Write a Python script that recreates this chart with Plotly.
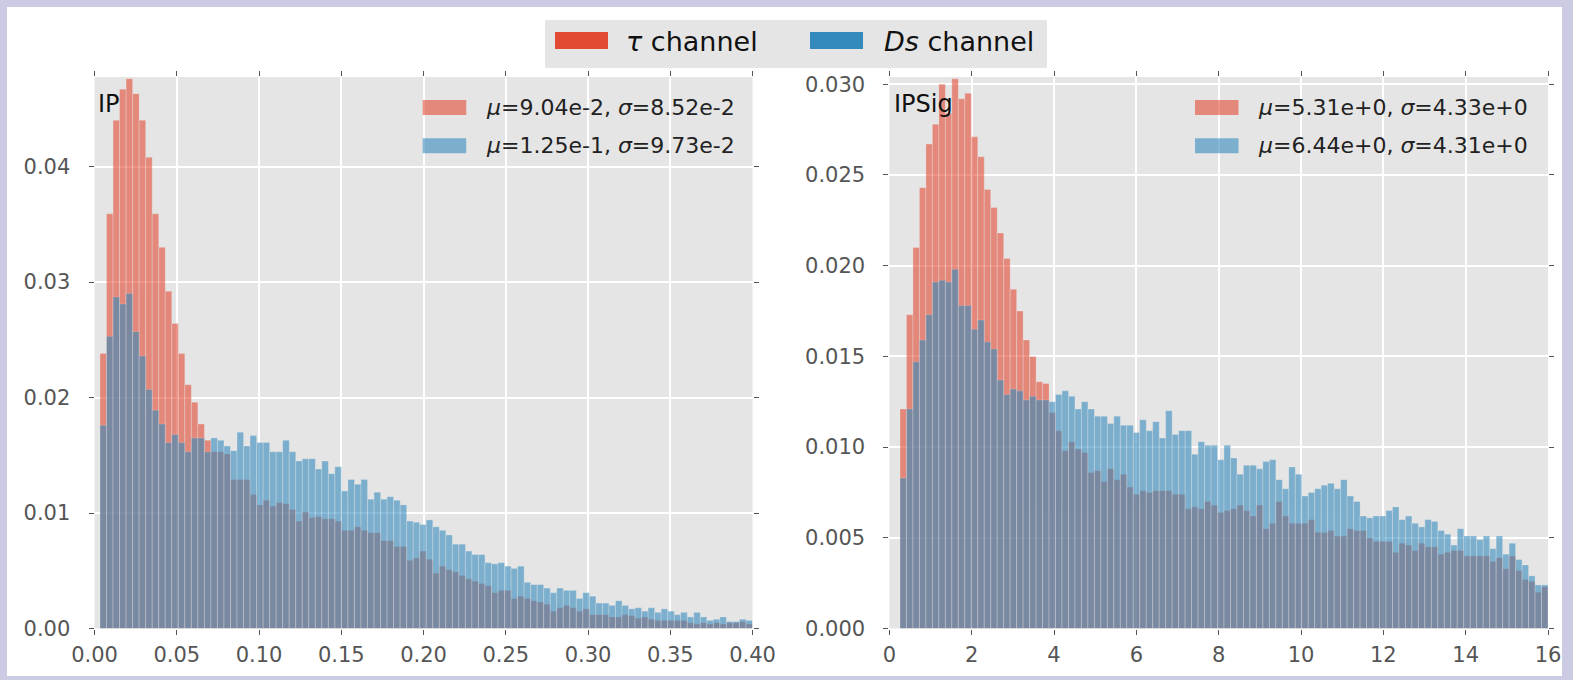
import numpy as np
import plotly.graph_objects as go

W, H = 1573, 680

# ---------------- data ----------------
n_bins = 100
ip_bin_start, ip_bin_end = 0.00334, 0.40
ipsig_bin_start, ipsig_bin_end = 0.2575, 16.0

ip_tau = [0.0238, 0.0359, 0.0440, 0.0467, 0.0476, 0.0463, 0.0440, 0.0408, 0.0359, 0.0330,
          0.0292, 0.0264, 0.0238, 0.0211, 0.0196, 0.0177, 0.0163, 0.0153, 0.0153, 0.0151,
          0.0129, 0.0129, 0.0129, 0.0116, 0.0107, 0.0111, 0.0106, 0.0109, 0.0108, 0.0103,
          0.0093, 0.0101, 0.0096, 0.0097, 0.0095, 0.0095, 0.0093, 0.0085, 0.0085, 0.0088,
          0.0085, 0.0083, 0.0083, 0.0076, 0.0076, 0.0071, 0.0071, 0.0059, 0.0061, 0.0067,
          0.0060, 0.0048, 0.0054, 0.0051, 0.0049, 0.0046, 0.0043, 0.0041, 0.0039, 0.0037,
          0.0031, 0.0033, 0.0033, 0.0026, 0.0028, 0.0026, 0.0024, 0.0023, 0.0021, 0.0015,
          0.0018, 0.0020, 0.0018, 0.0015, 0.0017, 0.0012, 0.0012, 0.0012, 0.0010, 0.0010,
          0.0012, 0.0011, 0.0009, 0.0010, 0.0008, 0.0007, 0.0007, 0.0007, 0.0007, 0.0007,
          0.0005, 0.0004, 0.0005, 0.0004, 0.0005, 0.0004, 0.0005, 0.0005, 0.0006, 0.0004]

ip_ds = [0.0176, 0.0253, 0.0287, 0.0281, 0.0290, 0.0257, 0.0236, 0.0207, 0.0189, 0.0177,
         0.0161, 0.0168, 0.0161, 0.0153, 0.0165, 0.0165, 0.0153, 0.0165, 0.0163, 0.0158,
         0.0154, 0.0170, 0.0158, 0.0167, 0.0161, 0.0161, 0.0153, 0.0153, 0.0163, 0.0153,
         0.0145, 0.0147, 0.0147, 0.0138, 0.0145, 0.0134, 0.0140, 0.0119, 0.0129, 0.0125,
         0.0129, 0.0112, 0.0118, 0.0112, 0.0114, 0.0111, 0.0107, 0.0093, 0.0092, 0.0090,
         0.0094, 0.0088, 0.0085, 0.0081, 0.0073, 0.0073, 0.0067, 0.0064, 0.0064, 0.0057,
         0.0056, 0.0057, 0.0054, 0.0052, 0.0054, 0.0040, 0.0038, 0.0038, 0.0035, 0.0031,
         0.0035, 0.0033, 0.0033, 0.0026, 0.0031, 0.0028, 0.0022, 0.0022, 0.0020, 0.0024,
         0.0020, 0.0017, 0.0018, 0.0015, 0.0018, 0.0014, 0.0017, 0.0015, 0.0012, 0.0014,
         0.0010, 0.0014, 0.0010, 0.0007, 0.0008, 0.0010, 0.0006, 0.0006, 0.0008, 0.0007]

ipsig_tau = [0.0121, 0.0173, 0.0210, 0.0243, 0.0267, 0.0278, 0.0300, 0.0284, 0.0303, 0.0292,
             0.0295, 0.0271, 0.0260, 0.0242, 0.0232, 0.0218, 0.0204, 0.0187, 0.0175, 0.0159,
             0.0150, 0.0136, 0.0135, 0.0119, 0.0109, 0.0098, 0.0103, 0.0099, 0.0097, 0.0086,
             0.0087, 0.0081, 0.0088, 0.0082, 0.0085, 0.0078, 0.0074, 0.0076, 0.0075, 0.0076,
             0.0076, 0.0076, 0.0074, 0.0074, 0.0066, 0.0067, 0.0066, 0.0070, 0.0068, 0.0064,
             0.0065, 0.0066, 0.0068, 0.0065, 0.0062, 0.0068, 0.0055, 0.0058, 0.0070, 0.0062,
             0.0058, 0.0058, 0.0058, 0.0060, 0.0053, 0.0053, 0.0054, 0.0051, 0.0051, 0.0055,
             0.0054, 0.0054, 0.0050, 0.0048, 0.0048, 0.0048, 0.0042, 0.0047, 0.0046, 0.0043,
             0.0047, 0.0045, 0.0045, 0.0041, 0.0042, 0.0043, 0.0043, 0.0040, 0.0040, 0.0040,
             0.0040, 0.0037, 0.0039, 0.0033, 0.0040, 0.0032, 0.0027, 0.0026, 0.0020, 0.0023]

ipsig_ds = [0.0083, 0.0121, 0.0147, 0.0159, 0.0173, 0.0191, 0.0192, 0.0191, 0.0198, 0.0178,
            0.0178, 0.0165, 0.0170, 0.0158, 0.0154, 0.0137, 0.0129, 0.0132, 0.0131, 0.0126,
            0.0128, 0.0126, 0.0126, 0.0125, 0.0129, 0.0131, 0.0128, 0.0121, 0.0125, 0.0121,
            0.0117, 0.0117, 0.0113, 0.0117, 0.0112, 0.0112, 0.0108, 0.0115, 0.0109, 0.0114,
            0.0105, 0.0120, 0.0107, 0.0109, 0.0109, 0.0096, 0.0103, 0.0101, 0.0101, 0.0093,
            0.0101, 0.0094, 0.0085, 0.0090, 0.0090, 0.0088, 0.0092, 0.0093, 0.0082, 0.0077,
            0.0089, 0.0085, 0.0073, 0.0075, 0.0077, 0.0079, 0.0080, 0.0077, 0.0082, 0.0073,
            0.0070, 0.0062, 0.0061, 0.0062, 0.0062, 0.0065, 0.0067, 0.0060, 0.0062, 0.0058,
            0.0056, 0.0060, 0.0059, 0.0054, 0.0052, 0.0046, 0.0055, 0.0051, 0.0051, 0.0049,
            0.0051, 0.0044, 0.0051, 0.0041, 0.0047, 0.0038, 0.0035, 0.0029, 0.0024, 0.0024]

ip_xticks = [0.00, 0.05, 0.10, 0.15, 0.20, 0.25, 0.30, 0.35, 0.40]
ip_yticks = [0.00, 0.01, 0.02, 0.03, 0.04]
ipsig_xticks = [0, 2, 4, 6, 8, 10, 12, 14, 16]
ipsig_yticks = [0.000, 0.005, 0.010, 0.015, 0.020, 0.025, 0.030]

ip_ymax = 0.04775
ipsig_ymax = 0.0304

series_names = ["<i>τ</i> channel", "<i>Ds</i> channel"]
ip_labels = ["<i>μ</i>=9.04e-2, <i>σ</i>=8.52e-2", "<i>μ</i>=1.25e-1, <i>σ</i>=9.73e-2"]
ipsig_labels = ["<i>μ</i>=5.31e+0, <i>σ</i>=4.33e+0", "<i>μ</i>=6.44e+0, <i>σ</i>=4.31e+0"]
panel_titles = ["IP", "IPSig"]

TAU = "#E24A33"
DS = "#348ABD"
BG = "#E5E5E5"
FONT = "DejaVu Sans"


def px(x):
    return x / W


def py(y):
    return 1 - y / H


def centers(start, end, n):
    edges = np.linspace(start, end, n + 1)
    return (edges[:-1] + edges[1:]) / 2, (end - start) / n


fig = go.Figure()

for (start, end, vals_tau, vals_ds, xa, ya) in [
    (ip_bin_start, ip_bin_end, ip_tau, ip_ds, "x", "y"),
    (ipsig_bin_start, ipsig_bin_end, ipsig_tau, ipsig_ds, "x2", "y2"),
]:
    c, w = centers(start, end, n_bins)
    for vals, col in [(vals_tau, TAU), (vals_ds, DS)]:
        fig.add_trace(go.Bar(
            x=c, y=vals, width=[w] * n_bins, xaxis=xa, yaxis=ya,
            marker=dict(color=col, line=dict(width=0.3, color="#EEEEEE")),
            opacity=0.6, showlegend=False, hoverinfo="skip"))

axis_common = dict(
    showgrid=True, gridcolor="white", gridwidth=1.6, zeroline=False,
    showline=True, linecolor="rgba(0,0,0,0)", mirror="ticks",
    ticks="outside", ticklen=5, tickwidth=1, tickcolor="#555555",
    tickfont=dict(family=FONT, size=21, color="#555555"),
    automargin=False,
)

ydom = [py(628.5), py(77)]
fig.update_layout(
    template="none",
    width=W, height=H, autosize=False,
    margin=dict(l=0, r=0, t=0, b=0, pad=0, autoexpand=False),
    paper_bgcolor="white", plot_bgcolor=BG,
    barmode="overlay",
    xaxis=dict(domain=[px(94.5), px(752.5)], range=[0, 0.40], anchor="y",
               tickvals=ip_xticks, ticktext=[f"{v:.2f}" for v in ip_xticks],
               ticklabelstandoff=2, **axis_common),
    yaxis=dict(domain=ydom, range=[0, ip_ymax], anchor="x",
               tickvals=ip_yticks, ticktext=[f"{v:.2f}" for v in ip_yticks],
               ticklabelstandoff=14, **axis_common),
    xaxis2=dict(domain=[px(889.4), px(1548)], range=[0, 16], anchor="y2",
                tickvals=ipsig_xticks, ticktext=[str(v) for v in ipsig_xticks],
                ticklabelstandoff=2, **axis_common),
    yaxis2=dict(domain=ydom, range=[0, ipsig_ymax], anchor="x2",
                tickvals=ipsig_yticks, ticktext=[f"{v:.3f}" for v in ipsig_yticks],
                ticklabelstandoff=14, **axis_common),
)

shapes = []
annotations = []

# lavender window border
LAV = "#CBCBE3"
for (x0, y0, x1, y1) in [(0, 0, 7, H), (0, 0, W, 7), (1562, 0, W, H), (0, 676, W, H)]:
    shapes.append(dict(type="rect", xref="paper", yref="paper",
                       x0=px(x0), x1=px(x1), y0=py(y1), y1=py(y0),
                       fillcolor=LAV, line=dict(width=0), layer="below"))

# top legend box
shapes.append(dict(type="rect", xref="paper", yref="paper",
                   x0=px(545), x1=px(1047), y0=py(68), y1=py(20),
                   fillcolor=BG, line=dict(width=0), layer="above"))
for (x0, col, name, tx) in [(555, TAU, series_names[0], 624), (810, DS, series_names[1], 882)]:
    shapes.append(dict(type="rect", xref="paper", yref="paper",
                       x0=px(x0), x1=px(x0 + 53), y0=py(49), y1=py(32),
                       fillcolor=col, line=dict(width=0), layer="above"))
    annotations.append(dict(xref="paper", yref="paper", x=px(tx), y=py(41),
                            xanchor="left", yanchor="middle", showarrow=False,
                            text=name, font=dict(family=FONT, size=27, color="#111111")))

# per-panel legends and titles
for (sx, tx, labels, title, titx) in [(422.7, 484, ip_labels, panel_titles[0], 96),
                                     (1195, 1256, ipsig_labels, panel_titles[1], 892)]:
    for k, (col, lab) in enumerate(zip([TAU, DS], labels)):
        ytop = 100 + 38.3 * k
        shapes.append(dict(type="rect", xref="paper", yref="paper",
                           x0=px(sx), x1=px(sx + 43.5), y0=py(ytop + 15), y1=py(ytop),
                           fillcolor=col, opacity=0.6, line=dict(width=0), layer="above"))
        annotations.append(dict(xref="paper", yref="paper", x=px(tx), y=py(ytop + 7.5),
                                xanchor="left", yanchor="middle", showarrow=False,
                                text=lab, font=dict(family=FONT, size=22, color="#222222")))
    annotations.append(dict(xref="paper", yref="paper", x=px(titx), y=py(104),
                            xanchor="left", yanchor="middle", showarrow=False,
                            text=title, font=dict(family=FONT, size=24, color="#111111")))

fig.update_layout(shapes=shapes, annotations=annotations)
fig.write_html("out.html")
